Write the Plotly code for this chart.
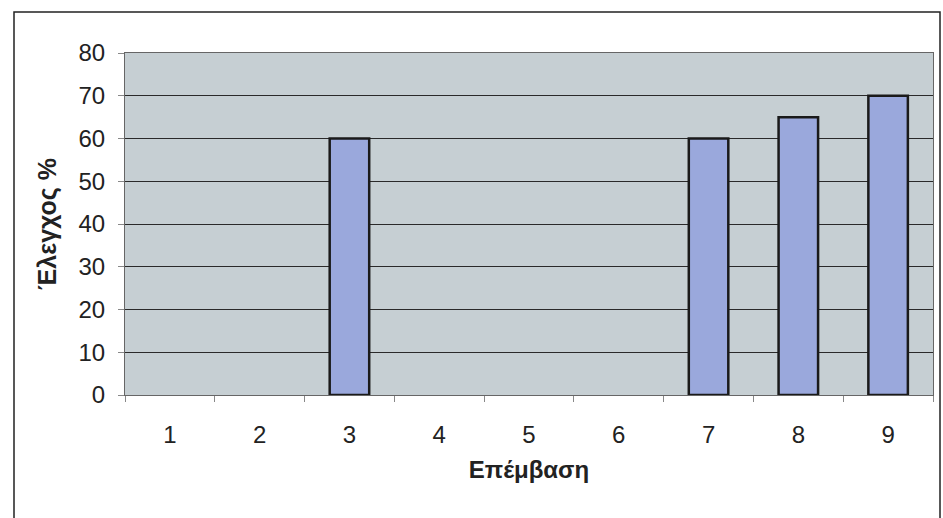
import plotly.graph_objects as go

categories = ["1", "2", "3", "4", "5", "6", "7", "8", "9"]
values = [None, None, 60, None, None, None, 60, 65, 70]
y_ticks = [0, 10, 20, 30, 40, 50, 60, 70, 80]

fig = go.Figure()
fig.add_trace(go.Bar(
    x=categories, y=values,
    marker=dict(color="#9aa8dc", line=dict(color="#1a1a1a", width=2.5)),
))

font = "Liberation Sans, Arial, sans-serif"
W, H = 808, 342
fig.update_layout(
    width=943, height=518,
    margin=dict(l=125, r=10, t=53, b=123),
    paper_bgcolor="white", plot_bgcolor="#c6cfd3",
    bargap=0.56, showlegend=False,
    font=dict(family=font, size=24, color="#222222"),
    xaxis=dict(
        type="category", categoryorder="array", categoryarray=categories,
        tickson="boundaries", ticks="outside", ticklen=6, tickcolor="#888888",
        showline=True, linecolor="#666666", linewidth=1, mirror=True,
        showgrid=False,
        title=dict(text="<b>Επέμβαση</b>", font=dict(size=24, family=font, color="#222222"), standoff=14),
        tickfont=dict(size=24), ticklabelstandoff=18,
    ),
    yaxis=dict(
        range=[0, 80], tickvals=y_ticks, ticktext=[str(v) for v in y_ticks],
        ticks="outside", ticklen=6, tickcolor="#888888",
        showline=True, linecolor="#666666", linewidth=1, mirror=True,
        showgrid=True, gridcolor="#2a2a2a", gridwidth=1, zeroline=False,
        title=dict(text="<b>Έλεγχος %</b>", font=dict(size=25, family=font, color="#222222"), standoff=14),
        tickfont=dict(size=24), ticklabelstandoff=8,
    ),
    shapes=[dict(type="rect", xref="paper", yref="paper",
                 x0=-(125 - 14) / W, x1=1 + 7 / W, y0=-(530 - 395) / H, y1=1 + (53 - 12) / H,
                 line=dict(color="#222222", width=1.5), fillcolor="rgba(0,0,0,0)", layer="below")],
)
fig.write_html("out.html")
